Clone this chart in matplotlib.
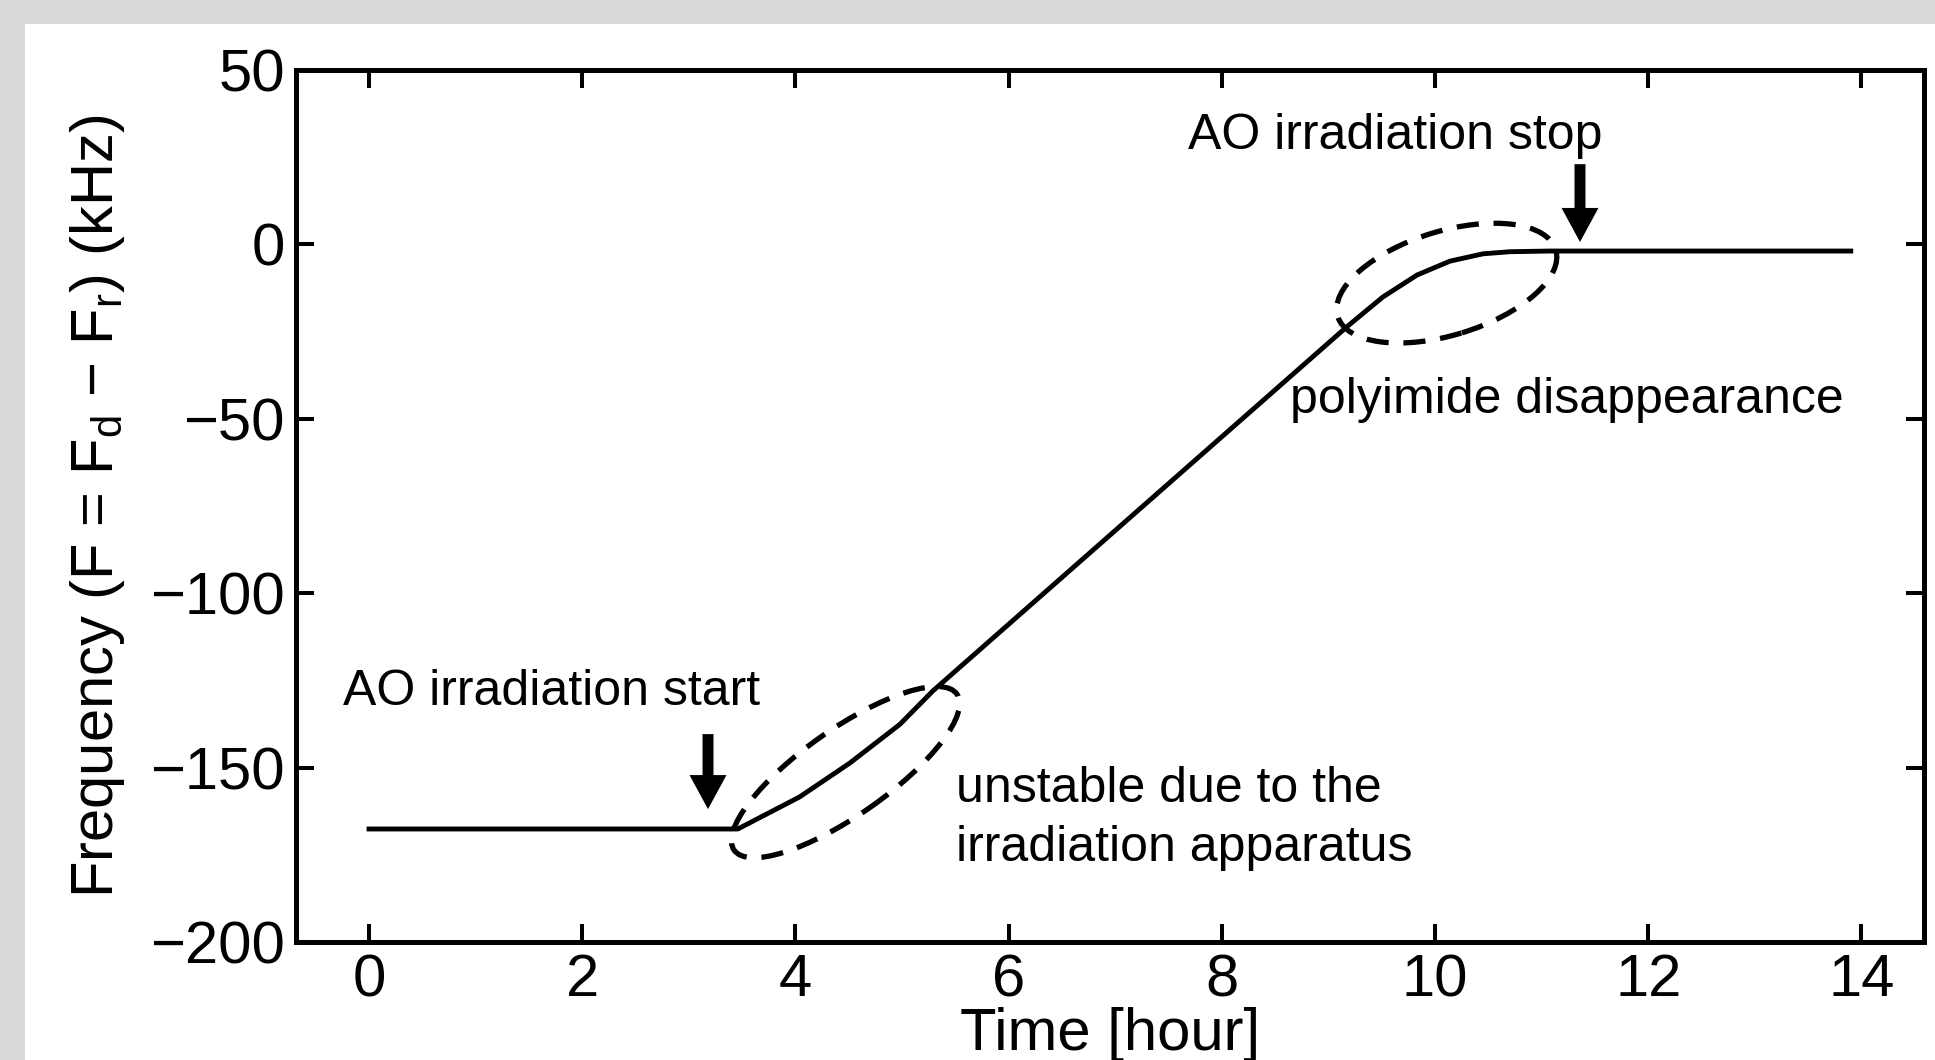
import matplotlib
matplotlib.use("Agg")
import matplotlib.pyplot as plt
from matplotlib.patches import Ellipse, Rectangle
from matplotlib.transforms import ScaledTranslation

plt.rcParams['font.family'] = ['Liberation Sans', 'DejaVu Sans']
plt.rcParams['mathtext.fontset'] = 'custom'
plt.rcParams['mathtext.rm'] = 'Liberation Sans'
plt.rcParams['mathtext.it'] = 'Liberation Sans:italic'

####################################################################
# data
####################################################################
time_hour = [0, 3.46, 4.04, 4.51, 4.98, 5.29, 9.17, 9.51, 9.83, 10.14, 10.45, 10.7, 11.08, 13.9]
freq_khz = [-167.6, -167.6, -158.4, -148.7, -137.6, -128.0, -23.7, -15.1, -8.8, -4.8, -2.7, -2.1, -1.9, -1.9]

x_ticks = [0, 2, 4, 6, 8, 10, 12, 14]
y_ticks = [-200, -150, -100, -50, 0, 50]

start_arrow = (3.18, -140.4, -161.9)
stop_arrow = (11.36, 23.0, 0.7)

# centre (data), width / height (inch), angle (deg)
ellipses = [(4.47, -151.3, 2.72, 0.86, 35),
            (10.11, -11.1, 2.28, 1.04, 17)]

notes = [("AO irradiation start", -0.24, -132.1),
         ("AO irradiation stop", 7.68, 27.4),
         ("polyimide disappearance", 8.64, -48.3),
         ("unstable due to the", 5.51, -159.9),
         ("irradiation apparatus", 5.51, -176.8)]


def draw_arrow(ax, arr):
    x, y0, y1 = arr
    ax.annotate('', xy=(x, y1), xytext=(x, y0),
                arrowprops=dict(arrowstyle='simple,head_width=2.66,head_length=2.45,tail_width=0.79',
                                fc='black', ec='black', lw=0, mutation_scale=10,
                                shrinkA=0, shrinkB=0))


def main():
    fig = plt.figure(figsize=(19.35, 10.6), dpi=100)
    fig.patch.set_facecolor('#d9d9d9')
    fig.patches.append(Rectangle((25 / 1935, 0), 1, 1 - 24 / 1060, transform=fig.transFigure,
                                 facecolor='white', edgecolor='none', zorder=-10))

    ax = fig.add_axes([0.15297, 0.11132, 0.84134, 0.82264])
    ax.plot(time_hour, freq_khz, color='black', lw=3.5, solid_joinstyle='round')

    ax.set_xlim(-0.685, 14.587)
    ax.set_ylim(-200, 50)
    ax.set_xticks(x_ticks)
    ax.set_yticks(y_ticks)
    ax.tick_params(direction='in', length=13, width=2.9, labelsize=43, pad=8,
                   top=True, right=True)
    for sp in ax.spines.values():
        sp.set_linewidth(3.6)

    ax.set_xlabel('Time [hour]', fontsize=43)
    ax.set_ylabel(r'Frequency (F = F$_\mathrm{d}$ − F$_\mathrm{r}$) (kHz)', fontsize=43)
    ax.xaxis.set_label_coords(0.5, -0.075)
    ax.yaxis.set_label_coords(-0.104, 0.5)

    # dashed ellipses, sized in inches so they keep their shape
    for cx, cy, w, h, ang in ellipses:
        tr = fig.dpi_scale_trans + ScaledTranslation(cx, cy, ax.transData)
        e = Ellipse((0, 0), w, h, angle=ang, transform=tr, fill=False,
                    edgecolor='black', lw=3.8, linestyle=(0, (4.2, 2.8)))
        ax.add_patch(e)

    draw_arrow(ax, start_arrow)
    draw_arrow(ax, stop_arrow)

    for txt, x, y in notes:
        ax.text(x, y, txt, fontsize=36, ha='left', va='baseline')

    fig.savefig('out.png', dpi=100, facecolor=fig.get_facecolor())


if __name__ == "__main__":
    main()
